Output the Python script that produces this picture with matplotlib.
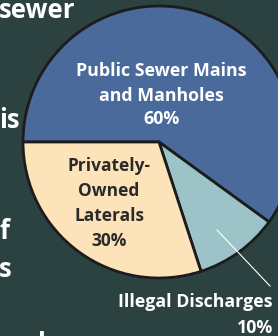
import matplotlib
matplotlib.use("Agg")
import matplotlib.pyplot as plt

W, H = 278, 336

categories = ["Public Sewer Mains\nand Manholes", "Illegal Discharges", "Privately-\nOwned\nLaterals"]
values = [60, 10, 30]
pct_labels = ["60%", "10%", "30%"]
colors = ["#4a6a9c", "#9cc4c8", "#fde3b9"]
bg = "#2b4240"

side_text = [("sewer", 18), ("is", 128), ("f", 239), ("s", 277)]

plt.rcParams['font.family'] = ['Open Sans', 'DejaVu Sans']

fig = plt.figure(figsize=(W / 100, H / 100), dpi=100, facecolor=bg)
ax = fig.add_axes([0, 0, 1, 1])
ax.set_facecolor(bg)

def py(y):
    return H - y

cx, cy, r = 159, py(142), 136
wedges, _ = ax.pie(values, colors=colors, startangle=180, counterclock=False,
                   center=(cx, cy), radius=r,
                   wedgeprops=dict(edgecolor="#1c1c1c", linewidth=2.0))
ax.set_xlim(0, W)
ax.set_ylim(0, H)
ax.set_aspect('equal')
ax.axis('off')

fs_in = 12.8
l0 = categories[0].split("\n")
ax.text(161, py(76), l0[0], color="white", fontsize=fs_in,
        fontweight="bold", ha="center", va="baseline")
ax.text(161, py(101), l0[1], color="white", fontsize=fs_in,
        fontweight="bold", ha="center", va="baseline")
ax.text(161, py(124), pct_labels[0], color="white", fontsize=fs_in,
        fontweight="bold", ha="center", va="baseline")

dark = "#2a2a2a"
for i, line in enumerate(categories[2].split("\n") + [pct_labels[2]]):
    ax.text(109, py(171 + 25 * i), line, color=dark, fontsize=12.5,
            fontweight="bold", ha="center", va="baseline")

ax.text(273, py(307), categories[1], color="white", fontsize=12.8,
        fontweight="bold", ha="right", va="baseline")
ax.text(273, py(333), pct_labels[1], color="white", fontsize=12.8,
        fontweight="bold", ha="right", va="baseline")
ax.plot([217, 270], [py(230), py(286)], color="white", linewidth=0.8)

for t, yb in side_text:
    ax.text(-1, py(yb), t, color="white", fontsize=18.5, fontweight="bold",
            ha="left", va="baseline")
ax.text(38, py(352), "l", color="white", fontsize=18.5, fontweight="bold",
        ha="left", va="baseline")

fig.savefig("out.png", dpi=100, facecolor=bg)
